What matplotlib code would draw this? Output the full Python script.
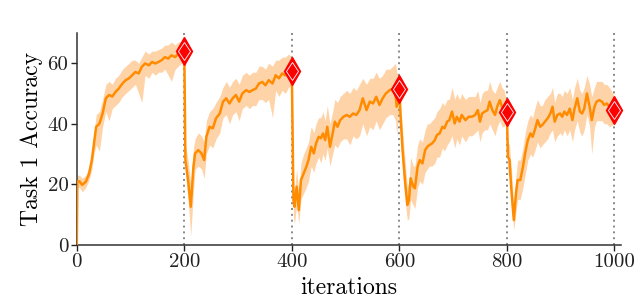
import matplotlib
matplotlib.use("Agg")
import matplotlib.pyplot as plt
import numpy as np

plt.rcParams['font.family'] = ['cmr10', 'DejaVu Serif']
plt.rcParams['mathtext.fontset'] = 'cm'
plt.rcParams['axes.unicode_minus'] = False
plt.rcParams['axes.formatter.use_mathtext'] = True

# ---- data ----
iters_1 = [0, 1, 5, 10, 17, 23, 28, 32, 36, 42, 48, 54, 60, 66, 72, 78, 85, 91, 97, 103, 109, 115,
           121, 127, 134, 140, 146, 152, 158, 164, 170, 176, 183, 189, 195, 200]
mean_1 = [0, 21, 21, 19.8, 20.9, 23.6, 28, 33.5, 39, 40, 43.4, 48.4, 49.5, 49, 50.5, 51.6, 53.3, 54.4, 55, 56, 57.1, 56.6,
          58.8, 59.9, 59.3, 60.4, 59.9, 60.4, 61, 62, 61.5, 62.6, 62, 63.2, 63.7, 64]
low_1 = [0, 19, 19, 17.5, 19, 21.5, 25, 30, 33, 31, 39, 44, 41, 45, 46, 47, 49, 50, 51, 52, 53, 50,
         47, 56, 55, 57, 56, 57, 57, 58, 56, 54, 58, 59, 60, 61]
high_1 = [0, 23, 23, 22, 23, 26, 31, 37, 43, 44, 48, 53, 54, 53, 55, 56, 58, 59, 60, 61, 61, 60,
          62, 64, 63, 64, 64, 64.5, 65, 66, 66, 67, 66, 67, 67, 66]

iters_2 = [202, 207, 212, 217, 220, 226, 232, 237, 241, 247, 253, 259, 266, 272, 278, 284, 290, 296, 302,
           308, 315, 321, 327, 333, 339, 345, 351, 357, 364, 370, 376, 382, 388, 394, 400]
mean_2 = [28, 21.4, 12.6, 25.8, 30.2, 31.3, 30.2, 28, 35.7, 39, 38.5, 41.8, 43.4, 47.3, 48.4, 46.7, 48.4, 49.5, 47.3,
          50, 51.1, 50.5, 51.1, 51.6, 53.3, 53.8, 52.7, 54.4, 53.3, 56, 55, 56.6, 56, 57.1, 57.5]
low_2 = [24, 15, 3, 18, 25, 26, 25, 22, 30, 33, 32, 35, 37, 42, 43, 40, 43, 44, 41,
         45, 46, 45, 46, 46, 48, 48, 47, 48, 42, 51, 49, 51, 50, 52, 53]
high_2 = [33, 28, 20, 32, 35, 37, 36, 34, 41, 44, 45, 47, 49, 52, 54, 52, 54, 55, 53,
          56, 57, 56, 57, 57, 59, 59, 58, 60, 59, 61, 61, 62, 62, 63, 62]

iters_3 = [403, 405, 409, 413, 417, 422, 427, 431, 436, 441, 445, 450, 454, 458, 462, 466, 471, 476, 480, 485,
           490, 496, 502, 508, 514, 520, 526, 532, 539, 545, 551, 557, 563, 569, 575, 582, 588, 593, 595, 600]
mean_3 = [14.8, 12.6, 19.2, 11.5, 21.4, 23.6, 25.8, 28, 32.4, 30.2, 33.5, 35.7, 35.2, 36.8, 34.6, 39, 32.4, 36.8, 40.7, 39,
          41.2, 42.3, 42.9, 42.3, 43.4, 42.9, 44.5, 48.4, 44.5, 47.3, 46.7, 48.9, 46.2, 48.4, 50, 51.1, 51.6, 50, 45.6, 51.4]
low_3 = [9, 7, 13, 7, 15, 17, 19, 21, 26, 24, 27, 29, 27, 30, 28, 32, 26, 30, 33, 32,
         34, 35, 35, 33, 36, 35, 36, 40, 36, 39, 38, 41, 38, 40, 42, 43, 43, 41, 36, 47]
high_3 = [20, 18, 25, 17, 27, 30, 32, 34, 39, 37, 40, 42, 42, 44, 41, 46, 40, 44, 48, 47,
          49, 50, 51, 50, 52, 51, 53, 55, 53, 55, 55, 57, 55, 56, 58, 58, 59, 60, 57, 56]

iters_4 = [602, 606, 611, 615, 618, 621, 626, 629, 634, 638, 643, 648, 652, 656, 661, 666, 670, 675, 680, 684,
           689, 693, 698, 703, 707, 712, 716, 723, 729, 735, 741, 746, 750, 754, 759, 764, 768, 773, 778, 782,
           787, 791, 795, 800]
mean_4 = [43.4, 31.3, 20.3, 13.2, 14.8, 22, 19.2, 18.7, 25.8, 28, 26.9, 31.3, 32.4, 33, 33.5, 34.6, 36.3, 36.8, 39, 38.5,
          40.7, 41.2, 44, 40.1, 42.3, 40.7, 42.9, 41.2, 42.3, 42.3, 42.9, 44.5, 40.7, 43.4, 44, 44.5, 47.3, 44.5, 42.9, 45.6,
          47.8, 45.6, 45, 44]
low_4 = [37, 24, 14, 8, 9, 15, 13, 12, 19, 21, 20, 24, 25, 26, 26, 27, 29, 29, 32, 31,
         33, 34, 36, 32, 35, 33, 36, 34, 36, 36, 37, 38, 34, 37, 38, 38, 40, 38, 36, 39,
         41, 39, 39, 41]
high_4 = [48, 38, 27, 19, 21, 29, 26, 26, 33, 35, 34, 38, 40, 40, 41, 42, 44, 45, 47, 46,
          48, 48, 52, 48, 50, 48, 50, 48, 49, 49, 49, 51, 47, 50, 51, 51, 54, 51, 50, 52,
          54, 52, 51, 47]

iters_5 = [802, 805, 808, 813, 817, 820, 825, 830, 834, 839, 844, 848, 852, 857, 862, 866, 871, 876, 881, 885,
           889, 894, 899, 903, 907, 912, 917, 922, 926, 931, 936, 940, 944, 949, 954, 958, 963, 967, 972, 977,
           981, 986, 991, 1000]
mean_5 = [29.1, 28, 19.2, 8.2, 17, 21.4, 21.4, 25.8, 30.2, 34.6, 36.8, 35.7, 37.9, 41.2, 39, 39.6, 40.7, 41.8, 43.4, 45.6,
          40.7, 42.9, 43.4, 42.3, 44, 42.9, 45, 41.2, 45, 48.4, 44, 43.4, 45, 50, 45.6, 41.2, 45.6, 47.3, 47.8, 47.3,
          46.2, 46.7, 45.6, 44.7]
low_5 = [24, 22, 13, 5, 11, 15, 15, 19, 23, 28, 30, 29, 31, 34, 32, 33, 34, 35, 37, 38,
         34, 36, 37, 36, 38, 36, 38, 34, 38, 41, 37, 36, 38, 43, 39, 30, 39, 41, 41, 41,
         40, 40, 39, 40]
high_5 = [34, 33, 26, 13, 23, 28, 28, 32, 37, 41, 43, 42, 45, 48, 46, 46, 48, 49, 50, 52,
          47, 50, 50, 49, 51, 50, 52, 48, 52, 55, 51, 50, 52, 56, 53, 49, 52, 54, 54, 54,
          53, 53, 52, 49]

task_ends = [200, 400, 600, 800, 1000]
x_ticks = [0, 200, 400, 600, 800, 1000]
y_ticks = [0, 20, 40, 60]

iters = np.array(iters_1 + iters_2 + iters_3 + iters_4 + iters_5, dtype=float)
mean = np.array(mean_1 + mean_2 + mean_3 + mean_4 + mean_5, dtype=float)
low = np.array(low_1 + low_2 + low_3 + low_4 + low_5, dtype=float)
high = np.array(high_1 + high_2 + high_3 + high_4 + high_5, dtype=float)

fig = plt.figure(figsize=(6.4, 2.99), dpi=100)
ax = fig.add_axes([0.120, 0.181, 0.850, 0.709])

ax.fill_between(iters, low, high, color='#ffcc99', alpha=0.85, linewidth=0, zorder=1)
ax.plot(iters, mean, color='#ff8c00', lw=1.8, zorder=3)

for t in task_ends:
    ax.axvline(t, color='#888888', ls=(0, (1, 2)), lw=1.4, zorder=2)

end_vals = [mean[np.where(iters == t)[0][0]] for t in task_ends]
ax.plot(task_ends, end_vals, 'd', ms=14, color='red', mec='red', zorder=5, clip_on=False)
ax.plot(task_ends, end_vals, 'd', ms=9.5, mfc='red', mec='white', mew=0.6, zorder=6, clip_on=False)

ax.set_xlim(0, 1012)
ax.set_ylim(0, 70)
ax.set_xticks(x_ticks)
ax.set_xticklabels([str(v) for v in x_ticks])
ax.set_yticks(y_ticks)
ax.set_yticklabels([str(v) for v in y_ticks])
ax.tick_params(axis='both', direction='out', length=4, width=1, labelsize=15, colors='#222222', pad=2)
for s in ['top', 'right']:
    ax.spines[s].set_visible(False)
for s in ['left', 'bottom']:
    ax.spines[s].set_color('#333333')
    ax.spines[s].set_linewidth(1.1)

ax.set_xlabel('iterations', fontsize=17, labelpad=4)
ax.set_ylabel('Task 1 Accuracy', fontsize=17, labelpad=3)

fig.savefig('out.png', dpi=100)
